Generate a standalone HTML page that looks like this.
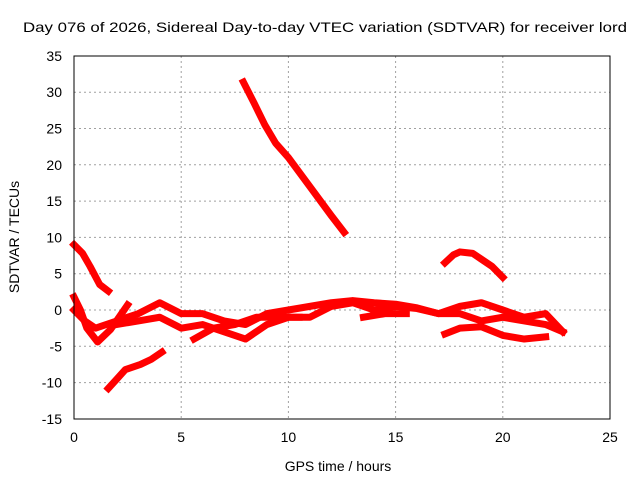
<!DOCTYPE html>
<html><head><meta charset="utf-8"><style>
body{margin:0;background:#fff;}
svg text{font-family:"Liberation Sans",sans-serif;font-size:14px;fill:#000;}
</style></head><body>
<svg id="chart" width="640" height="480">
<text x="325" y="32" text-anchor="middle" style="font-size:14px" textLength="604" lengthAdjust="spacingAndGlyphs">Day 076 of 2026, Sidereal Day-to-day VTEC variation (SDTVAR) for receiver lord</text>
<text x="338" y="471" text-anchor="middle">GPS time / hours</text>
<text x="0" y="0" transform="translate(19,237) rotate(-90)" text-anchor="middle">SDTVAR / TECUs</text>
<g id="grid"></g><g id="series"></g>
<rect x="74" y="56" width="536" height="363" fill="none" stroke="#000" stroke-width="1"/>
</svg>
<script>
const xTicks=[0,5,10,15,20,25];
const yTicks=[-15,-10,-5,0,5,10,15,20,25,30,35];
const trackA=[[7.9,31.4],[8.4,28.5],[8.9,25.5],[9.4,23],[10,21],[11,17],[12,13],[12.6,10.7]];
const trackB=[[0,9],[0.4,7.8],[0.75,6],[1.2,3.5],[1.6,2.6]];
const trackC=[[1.6,-10.8],[2,-9.5],[2.4,-8.2],[3.1,-7.5],[3.6,-6.8],[4.1,-5.8]];
const trackD=[[0,1.8],[0.3,0],[0.6,-2.5],[1.1,-4.4],[1.7,-2.7],[2.5,0.7]];
const band1=[[0,0],[0.5,-1.5],[1,-2.5],[2,-1.5],[3,-0.5],[4,1],[5,-0.5],[6,-0.5],[7,-1.5],[8,-2],[9,-0.5],[10,0],[11,0.5],[12,1],[13,1.3],[14,1],[15,0.8],[16,0.3],[17,-0.5],[18,0.5],[19,1],[20,0],[21,-1],[22,-0.5],[22.8,-3]];
const band2=[[2,-2],[3,-1.5],[4,-1],[5,-2.5],[6,-2],[7,-3],[8,-4],[9,-2],[10,-1],[11,-1],[12,0.5],[13,1],[14,0],[15,0.5],[16,0.2],[17,-0.5],[18,-0.5],[19,-1.5],[20,-1],[21,-1.5],[22,-2],[22.8,-3]];
const band3=[[17.3,-3.3],[18,-2.5],[19,-2.3],[20,-3.5],[21,-4],[22,-3.7]];
const band4=[[5.6,-4],[6.5,-2.5],[7.5,-2],[8.5,-1],[9.5,-1],[10.5,-1]];
const band5=[[17.3,6.5],[17.7,7.6],[18,8],[18.6,7.8],[19,7],[19.5,6],[20,4.5]];
const band6=[[13.5,-1],[14.5,-0.5],[15.5,-0.5]];
const tracks=[trackA,trackB,trackC,trackD,band1,band2,band3,band4,band5,band6];
const X=h=>74+h*(536/25);
const Y=v=>310-v*(363/50);
const NS="http://www.w3.org/2000/svg";
const g=document.getElementById('grid'),s=document.getElementById('series');
function mk(tag,at,par){const e=document.createElementNS(NS,tag);for(const k in at)e.setAttribute(k,at[k]);par.appendChild(e);return e;}
xTicks.forEach(t=>{
 if(t>0&&t<25){const l=mk('line',{x1:X(t),x2:X(t),y1:56,y2:419,stroke:'#a0a0a0','stroke-dasharray':'2,3'},g);
 
 }
 const tx=mk('text',{x:X(t),y:442,'text-anchor':'middle'},g);tx.textContent=t;
 
 
});
yTicks.forEach(t=>{
 if(t>-15&&t<35){const l=mk('line',{x1:74,x2:610,y1:Y(t),y2:Y(t),stroke:'#a0a0a0','stroke-dasharray':'2,3'},g);
 
 }
 const tx=mk('text',{x:62,y:Y(t)+5,'text-anchor':'end'},g);tx.textContent=t;
 
 
});
tracks.forEach(tr=>{
 const p=mk('polyline',{points:tr.map(d=>X(d[0])+','+Y(d[1])).join(' '),fill:'none',stroke:'#ff0000','stroke-width':7,'stroke-linejoin':'round','stroke-linecap':'square'},s);
 
 
});
</script>
</body></html>
